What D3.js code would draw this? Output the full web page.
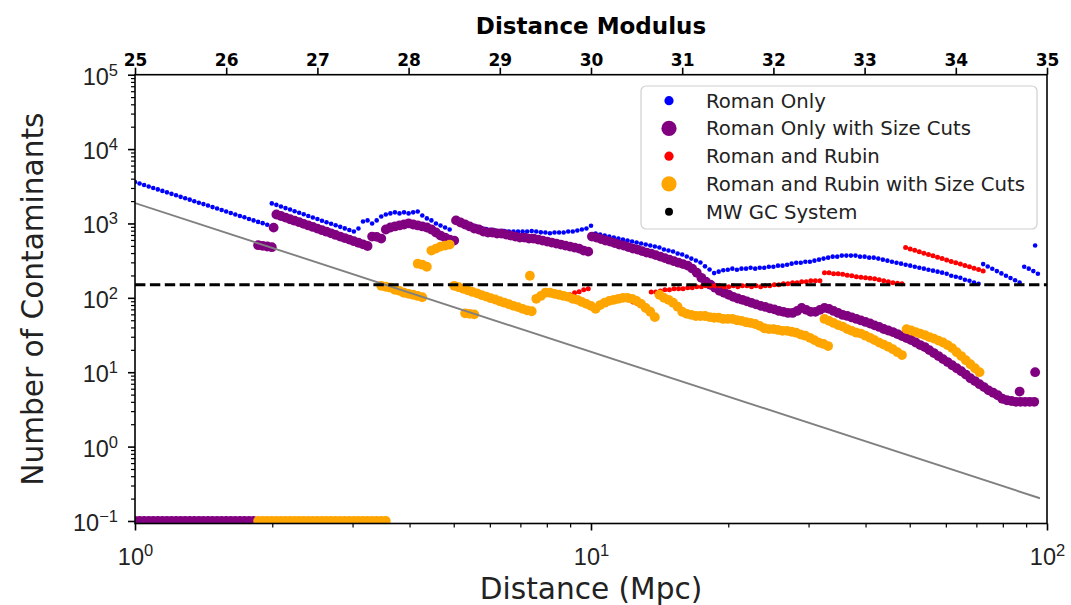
<!DOCTYPE html>
<html>
<head>
<meta charset="utf-8">
<script src="https://cdn.jsdelivr.net/npm/d3@7"></script>
<style>
  html, body { margin: 0; padding: 0; background: #fff; }
  svg { display: block; font-family: "DejaVu Sans", sans-serif; }
</style>
</head>
<body>
<svg id="chart" width="1071" height="605"></svg>
<script>
// Contaminant counts sampled on a distance-modulus grid.
// Each run starts at a distance modulus and advances by MU_STEP per value.
const MU_STEP = 0.05;

const romanOnly = [
  { start: 25.00, counts: [3600, 3440, 3290, 3140, 3000, 2870, 2740, 2620, 2500, 2390, 2280, 2180, 2090, 1990, 1900, 1820, 1740, 1660, 1590, 1520, 1450, 1380, 1320, 1260, 1210, 1150, 1100, 1050, 1010, 960] },
  { start: 26.50, counts: [1860, 1780, 1690, 1610, 1540, 1460, 1390, 1330, 1260, 1200, 1150, 1090, 1040, 990, 945, 900, 858, 817, 778] },
  { start: 27.45, counts: [855, 1065, 1100, 1000, 1100, 1240, 1320, 1365, 1410, 1365, 1410, 1365, 1410, 1450, 1280, 1170, 1100, 1000, 940, 883, 830] },
  { start: 28.55, counts: [1100, 1040, 990, 940, 900, 870, 840, 820, 800, 790, 790, 780, 780, 780, 780, 780, 790, 780, 760, 756, 740, 756, 756, 756, 780, 780, 804, 830, 855, 930] },
  { start: 30.05, counts: [730, 710, 690, 668, 648, 628, 609, 590, 572, 554, 538, 521, 505, 490, 475, 447, 432, 419, 394, 382, 359, 337, 317, 298, 265, 240, 215, 225, 235, 239, 247, 239, 247, 247, 254, 247, 254, 254, 262, 262, 271, 271, 279, 288, 297, 297, 306, 306, 316, 326, 337, 347, 358, 358, 370, 370, 370, 370, 358, 358, 347, 347, 337, 326, 316, 306, 297, 288, 279, 271, 262, 254, 247, 239, 232, 225, 218, 211, 198, 192, 186, 175, 170, 160, 155] },
  { start: 34.30, counts: [284, 264, 246, 229, 213, 198, 185, 172, 160] },
  { start: 34.75, counts: [262, 247, 229, 211] },
  { start: 34.87, counts: [505] }
];

const romanOnlySizeCuts = [
  { start: 25.00, counts: [0.1, 0.1, 0.1, 0.1, 0.1, 0.1, 0.1, 0.1, 0.1, 0.1, 0.1, 0.1, 0.1, 0.1, 0.1, 0.1, 0.1, 0.1, 0.1, 0.1, 0.1, 0.1, 0.1, 0.1, 0.1, 0.1, 0.1] },
  { start: 26.35, counts: [510, 500, 490, 480] },
  { start: 26.52, counts: [880] },
  { start: 26.55, counts: [1320, 1260, 1200, 1140, 1090, 1040, 988, 940, 897, 853, 812, 775, 737, 701, 667, 637, 606, 577, 550, 524, 498] },
  { start: 27.60, counts: [667, 660, 627] },
  { start: 27.75, counts: [830, 883, 911, 940, 969, 1000, 969, 940, 911, 883, 830, 756, 688, 647, 608, 589] },
  { start: 28.52, counts: [1100, 1030, 969, 911, 855, 830, 780, 756, 756, 733, 733, 710, 688, 667, 647, 647, 627, 627, 608, 589, 571, 554, 537, 520, 504, 489, 474, 459, 432, 418] },
  { start: 30.01, counts: [667, 647, 617, 589, 571, 545, 520, 504, 481, 459, 445, 425, 406, 393, 375, 358, 342, 326, 311, 297, 284, 271, 247, 218, 186, 165, 150, 137, 124, 117, 110, 103, 98, 94, 89.7, 85.6, 81.7, 78, 75.6, 72.1, 69.9, 66.7, 64.7, 62.7, 62.7, 66.7, 73.2, 68.9, 64.7, 64.7, 68.9, 73.2, 71, 66.7, 62.7, 58.9, 57.1, 54.5, 52, 49.7, 47.4, 45.2, 42.6, 40.6, 38.1, 36.4, 34.7, 32.6, 30.6, 28.8, 27.1, 25.1, 23.2, 21.8, 19.8, 18.1, 16.5, 15, 13.7, 12.4, 11.3, 10.3, 9.3, 8.3, 7.6, 6.9, 6.3, 5.7, 5.3, 4.9, 4.4, 4.2, 4.1, 4.0, 4.0, 4.0, 4.0, 4.0] },
  { start: 34.70, counts: [5.5] },
  { start: 34.87, counts: [10] }
];

const romanRubin = [
  { start: 29.72, counts: [103, 110, 117, 121, 128, 132] },
  { start: 30.36, counts: [100, 94, 88, 83, 78, 73] },
  { start: 30.66, counts: [120, 120, 124, 128, 128, 132, 132, 132, 137, 137, 141, 141, 145, 145, 145, 145, 141, 141, 145, 141, 145, 145, 141, 145, 141, 145, 145, 150, 150, 155, 155, 160, 160, 165, 165, 170, 170, 170] },
  { start: 32.56, counts: [218, 218, 211, 211, 208, 201, 198, 192, 189, 186, 184, 181, 175, 170, 165, 160, 157, 155] },
  { start: 33.45, counts: [474, 454, 436, 417, 399, 384, 367, 352, 337, 323, 309, 296, 284, 272, 261, 250, 240, 230] }
];

const romanRubinSizeCuts = [
  { start: 26.35, counts: [0.1, 0.1, 0.1, 0.1, 0.1, 0.1, 0.1, 0.1, 0.1, 0.1, 0.1, 0.1, 0.1, 0.1, 0.1, 0.1, 0.1, 0.1, 0.1, 0.1, 0.1, 0.1, 0.1, 0.1, 0.1, 0.1, 0.1, 0.1, 0.1] },
  { start: 27.70, counts: [145, 141, 137, 128, 124, 117, 113, 110, 106, 102] },
  { start: 28.10, counts: [288, 279, 262] },
  { start: 28.25, counts: [432, 459, 489, 504, 520] },
  { start: 28.50, counts: [145, 139, 132, 126, 120, 115, 109, 104, 99, 95, 90, 86, 82, 78, 75, 71, 68, 66] },
  { start: 28.62, counts: [62, 61, 60] },
  { start: 29.33, counts: [198] },
  { start: 29.40, counts: [97, 106, 117, 117, 113, 110, 106, 103, 97, 94, 88, 83, 78, 71, 80, 86, 91, 94, 97, 100, 100, 97, 91, 83, 73, 65, 55] },
  { start: 30.75, counts: [110, 100, 94, 86, 76, 65, 61, 59, 57, 57, 57, 55, 54, 54, 52, 52, 52, 50, 49, 47, 46, 44.5, 42, 39, 38, 38, 37, 36, 36, 35, 34, 32, 31, 29, 27, 25, 24, 22.5] },
  { start: 32.56, counts: [52, 49, 46, 43, 41, 38, 36, 34, 33, 31, 29, 27, 25, 23.5, 22, 20.4, 18.6, 17] },
  { start: 33.46, counts: [38, 36.4, 34.7, 33.1, 31.6, 29.7, 28.3, 26.6, 25.1, 23.2, 21.1, 18.6, 16.5, 14.5, 12.8, 11.3, 10] }
];

// Milky Way globular cluster system size and the gray reference line (Mpc, count)
const mwGcCount = 150;
const referenceLine = [[1, 1880], [96.5, 0.202]];

const xMajorTicks = [1, 10, 100];
const xTickExponents = ["0", "1", "2"];
const yMajorTicks = [0.1, 1, 10, 100, 1000, 10000, 100000];
const yTickExponents = ["\u22121", "0", "1", "2", "3", "4", "5"];
const muTicks = [25, 26, 27, 28, 29, 30, 31, 32, 33, 34, 35];

const legendItems = [
  { label: "Roman Only", color: "#0000ff", r: 4.6 },
  { label: "Roman Only with Size Cuts", color: "#800080", r: 7.6 },
  { label: "Roman and Rubin", color: "#ff0000", r: 4.6 },
  { label: "Roman and Rubin with Size Cuts", color: "#ffa500", r: 7.6 },
  { label: "MW GC System", color: "#000000", r: 4.0 }
];

// ---- layout ----
const plot = { left: 135, right: 1047, top: 74.7, bottom: 523.5 };
const svg = d3.select("#chart");

const x = d3.scaleLog().domain([1, 100]).range([plot.left, plot.right]);
const y = d3.scaleLog().domain([0.0925, 1e5]).range([plot.bottom, plot.top]);
const muScale = d3.scaleLinear().domain([25, 35]).range([plot.left, plot.right]);

// distance modulus -> distance in Mpc
const muToMpc = m => Math.pow(10, (m - 25) / 5);

svg.append("defs").append("clipPath").attr("id", "plot-clip")
  .append("rect")
  .attr("x", plot.left).attr("y", plot.top)
  .attr("width", plot.right - plot.left).attr("height", plot.bottom - plot.top);

const marks = svg.append("g").attr("clip-path", "url(#plot-clip)");

function toPoints(runs) {
  return runs.flatMap(run => run.counts.map((c, i) => ({ d: muToMpc(run.start + i * MU_STEP), n: c })));
}

function scatter(runs, color, r) {
  marks.append("g").selectAll("circle")
    .data(toPoints(runs))
    .join("circle")
    .attr("cx", p => x(p.d))
    .attr("cy", p => y(p.n))
    .attr("r", r)
    .attr("fill", color);
}

scatter(romanOnly, "#0000ff", 2.3);
scatter(romanOnlySizeCuts, "#800080", 4.9);
scatter(romanRubin, "#ff0000", 2.5);
scatter(romanRubinSizeCuts, "#ffa500", 4.9);

// gray reference line
marks.append("path")
  .datum(referenceLine)
  .attr("d", d3.line().x(p => x(p[0])).y(p => y(p[1])))
  .attr("fill", "none")
  .attr("stroke", "#808080")
  .attr("stroke-width", 1.9);

// MW GC system level
marks.append("line")
  .attr("x1", plot.left).attr("x2", plot.right)
  .attr("y1", y(mwGcCount)).attr("y2", y(mwGcCount))
  .attr("stroke", "#000")
  .attr("stroke-width", 2.8)
  .attr("stroke-dasharray", "10.4,4.5");

// ---- axes ----
function styleTicks(g, width) {
  g.select(".domain").remove();
  g.selectAll(".tick line").attr("stroke", "#000").attr("stroke-width", width);
}

const xMinor = [];
const yMinor = [];
[1, 10].forEach(dec => { for (let k = 2; k <= 9; k++) xMinor.push(k * dec); });
[0.1, 1, 10, 100, 1000, 10000].forEach(dec => { for (let k = 2; k <= 9; k++) yMinor.push(k * dec); });

// bottom (distance, Mpc)
svg.append("g").attr("transform", `translate(0,${plot.bottom})`)
  .call(d3.axisBottom(x).tickValues(xMinor).tickSize(4).tickFormat(""))
  .call(g => styleTicks(g, 1.2));
const xAxisG = svg.append("g").attr("transform", `translate(0,${plot.bottom})`)
  .call(d3.axisBottom(x).tickValues(xMajorTicks).tickSize(7).tickFormat(""))
  .call(g => styleTicks(g, 1.6));
xAxisG.selectAll(".tick").each(function (d, i) {
  const t = d3.select(this).append("text")
    .attr("y", 41.5).attr("text-anchor", "middle")
    .attr("fill", "#222").style("font-size", "23.5px");
  t.append("tspan").text("10");
  t.append("tspan").attr("dy", -9).style("font-size", "16.5px").text(xTickExponents[i]);
});

// left (count)
svg.append("g").attr("transform", `translate(${plot.left},0)`)
  .call(d3.axisLeft(y).tickValues(yMinor).tickSize(4).tickFormat(""))
  .call(g => styleTicks(g, 1.2));
const yAxisG = svg.append("g").attr("transform", `translate(${plot.left},0)`)
  .call(d3.axisLeft(y).tickValues(yMajorTicks).tickSize(7).tickFormat(""))
  .call(g => styleTicks(g, 1.6));
yAxisG.selectAll(".tick").each(function (d, i) {
  const t = d3.select(this).append("text")
    .attr("x", -17).attr("y", 9.5).attr("text-anchor", "end")
    .attr("fill", "#222").style("font-size", "23.5px");
  t.append("tspan").text("10");
  t.append("tspan").attr("dy", -9).style("font-size", "16.5px").text(yTickExponents[i]);
});

// top (distance modulus)
svg.append("g").attr("transform", `translate(0,${plot.top})`)
  .call(d3.axisTop(muScale).tickValues(muTicks).tickSize(7).tickPadding(1.5).tickFormat(d3.format("d")))
  .call(g => styleTicks(g, 1.6))
  .call(g => g.selectAll("text").attr("fill", "#000").style("font-size", "17px").style("font-weight", "bold").style("font-family", "'DejaVu Sans', sans-serif"));

// frame
svg.append("rect")
  .attr("x", plot.left).attr("y", plot.top)
  .attr("width", plot.right - plot.left).attr("height", plot.bottom - plot.top)
  .attr("fill", "none").attr("stroke", "#000").attr("stroke-width", 1.6);

// titles
svg.append("text")
  .attr("x", (plot.left + plot.right) / 2).attr("y", 34)
  .attr("text-anchor", "middle").style("font-size", "23px").style("font-weight", "bold")
  .text("Distance Modulus");
svg.append("text")
  .attr("x", (plot.left + plot.right) / 2).attr("y", 599)
  .attr("text-anchor", "middle").attr("fill", "#222").style("font-size", "29.6px")
  .text("Distance (Mpc)");
svg.append("text")
  .attr("transform", `translate(43,${(plot.top + plot.bottom) / 2}) rotate(-90)`)
  .attr("text-anchor", "middle").attr("fill", "#222").style("font-size", "29.6px")
  .text("Number of Contaminants");

// ---- legend ----
const legend = svg.append("g").attr("transform", "translate(641,86)");
legend.append("rect")
  .attr("width", 396).attr("height", 143).attr("rx", 5)
  .attr("fill", "#fff").attr("fill-opacity", 0.8)
  .attr("stroke", "#d0d0d0").attr("stroke-width", 1.2);
const rows = legend.selectAll("g.row").data(legendItems).join("g")
  .attr("class", "row")
  .attr("transform", (d, i) => `translate(0,${14.7 + i * 27.75})`);
rows.append("circle").attr("cx", 28).attr("cy", 0).attr("r", d => d.r).attr("fill", d => d.color);
rows.append("text").attr("x", 65).attr("y", 7).attr("fill", "#222")
  .style("font-size", "19.7px").text(d => d.label);
</script>
</body>
</html>
